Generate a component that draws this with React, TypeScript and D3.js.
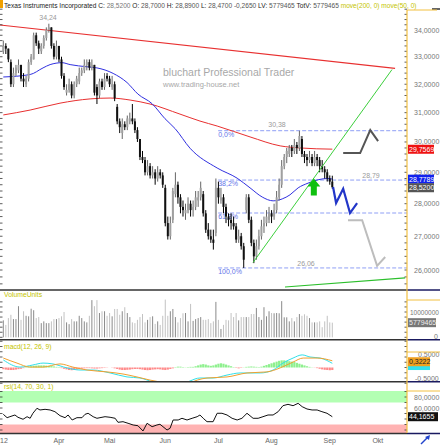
import * as d3 from "d3";

const FONT = "'Liberation Sans', Arial, sans-serif";

// daily candles from 1 Mar 2012: open, high, low, close
const ohlc: [number, number, number, number][] = [
  [33.2, 33.6, 33.1, 33.4], [33.4, 33.5, 33.1, 33.3], [33.3, 33.3, 32.8, 32.9], [32.8, 32.9, 31.9, 32.0],
  [32.0, 32.6, 31.9, 32.4], [32.4, 32.7, 32.3, 32.6], [32.5, 32.9, 32.4, 32.7], [32.7, 32.7, 32.1, 32.2],
  [32.2, 32.4, 31.9, 32.1], [32.0, 32.3, 31.9, 32.2], [32.2, 32.9, 32.1, 32.8], [32.8, 33.1, 32.7, 33.0],
  [32.9, 33.9, 32.9, 33.8], [33.8, 33.9, 33.4, 33.5], [33.5, 33.6, 33.1, 33.3], [33.2, 33.5, 33.1, 33.4],
  [33.4, 33.8, 33.3, 33.7], [33.7, 34.1, 33.6, 34.0], [34.0, 34.24, 33.9, 34.1], [34.1, 34.1, 33.3, 33.4],
  [33.4, 33.5, 32.9, 33.0], [33.0, 33.6, 32.9, 33.4], [33.4, 33.4, 32.8, 32.9], [32.9, 33.0, 32.2, 32.3],
  [32.3, 32.4, 31.8, 31.9], [31.7, 32.0, 31.6, 31.8], [31.8, 32.2, 31.7, 32.0], [32.0, 32.1, 31.5, 31.6],
  [31.6, 32.1, 31.5, 32.0], [32.0, 32.3, 31.9, 32.2], [32.1, 32.6, 32.0, 32.4], [32.4, 32.6, 32.3, 32.5],
  [32.5, 32.9, 32.4, 32.7], [32.7, 32.9, 32.5, 32.8], [32.8, 32.9, 32.5, 32.6], [32.6, 32.9, 32.5, 32.7],
  [32.7, 32.7, 31.6, 31.7], [31.9, 32.0, 31.3, 31.6], [31.6, 32.2, 31.5, 32.1], [32.1, 32.2, 31.8, 31.9],
  [31.9, 32.4, 31.8, 32.2], [32.3, 32.4, 32.1, 32.2], [32.2, 32.3, 31.9, 32.0], [31.9, 32.3, 31.8, 32.0],
  [32.0, 32.1, 31.4, 31.5], [31.2, 31.3, 30.6, 30.7], [30.7, 30.8, 30.3, 30.5], [30.3, 30.8, 30.1, 30.6],
  [30.6, 30.7, 30.4, 30.5], [30.5, 30.9, 30.4, 30.8], [30.7, 31.0, 30.6, 30.8], [30.8, 31.3, 30.6, 30.7],
  [30.7, 30.8, 30.3, 30.4], [30.4, 30.5, 30.0, 30.1], [30.1, 30.1, 29.4, 29.5], [29.5, 29.7, 29.3, 29.4],
  [29.4, 29.5, 28.9, 29.0], [29.0, 29.4, 28.9, 29.2], [29.2, 29.3, 28.8, 28.9], [28.9, 29.2, 28.8, 29.0],
  [29.0, 29.1, 28.6, 28.8], [28.8, 29.2, 28.7, 29.0], [29.0, 29.1, 28.8, 28.9], [28.9, 29.0, 28.5, 28.6],
  [28.5, 28.6, 27.3, 27.4], [27.4, 27.6, 26.9, 27.0], [27.0, 27.6, 26.9, 27.4], [27.5, 28.5, 27.4, 28.4],
  [28.3, 29.0, 28.2, 28.6], [28.6, 28.7, 28.0, 28.2], [28.2, 28.3, 27.7, 27.9], [27.9, 28.1, 27.6, 27.8],
  [27.7, 28.0, 27.5, 27.8], [27.8, 28.2, 27.7, 28.0], [28.0, 28.1, 27.6, 27.8], [27.8, 28.1, 27.6, 27.9],
  [27.9, 28.4, 27.8, 28.2], [28.1, 28.4, 27.9, 28.2], [28.2, 28.7, 28.1, 28.5], [28.3, 28.4, 27.6, 27.7],
  [27.7, 27.8, 27.1, 27.2], [27.2, 27.4, 26.9, 27.0], [27.0, 27.2, 26.8, 26.9], [26.9, 27.2, 26.6, 26.8],
  [27.1, 28.8, 27.0, 28.5], [28.5, 28.7, 28.0, 28.2], [28.1, 28.5, 28.0, 28.2], [28.2, 28.3, 27.7, 27.9],
  [27.9, 28.0, 27.4, 27.6], [27.6, 27.7, 27.3, 27.5], [27.5, 27.7, 27.2, 27.4], [27.4, 27.6, 27.2, 27.3],
  [27.3, 27.4, 26.8, 26.9], [26.9, 27.2, 26.8, 27.0], [27.0, 27.1, 26.6, 26.7], [26.7, 26.8, 26.06, 26.3],
  [27.8, 28.3, 27.7, 28.2], [28.2, 28.3, 27.4, 27.5], [27.5, 27.6, 26.7, 26.8], [26.8, 26.9, 26.2, 26.4],
  [26.4, 26.9, 26.3, 26.7], [26.7, 27.2, 26.6, 27.0], [27.0, 27.5, 26.9, 27.3], [27.3, 27.6, 27.1, 27.4],
  [27.4, 27.8, 27.3, 27.6], [27.5, 27.9, 27.4, 27.7], [27.7, 27.8, 27.4, 27.6], [27.6, 28.0, 27.5, 27.8],
  [27.8, 28.4, 27.7, 28.2], [28.2, 28.8, 28.1, 28.6], [28.6, 29.4, 28.5, 29.2], [29.2, 29.6, 29.1, 29.5],
  [29.5, 29.8, 29.3, 29.7], [29.6, 29.9, 29.5, 29.8], [29.8, 29.9, 29.5, 29.7], [29.7, 30.1, 29.6, 29.9],
  [29.9, 30.0, 29.6, 29.8], [29.8, 30.38, 29.7, 30.2], [30.1, 30.2, 29.5, 29.6], [29.6, 29.7, 29.3, 29.5],
  [29.5, 29.6, 29.2, 29.4], [29.4, 29.7, 29.3, 29.5], [29.5, 29.6, 29.2, 29.3], [29.3, 29.7, 29.2, 29.5],
  [29.5, 29.6, 29.2, 29.4], [29.4, 29.5, 29.0, 29.2], [29.2, 29.4, 29.0, 29.1], [29.1, 29.2, 28.8, 29.0],
  [29.0, 29.1, 28.7, 28.8], [28.8, 28.9, 28.6, 28.7], [28.7, 28.89, 28.47, 28.52],
];

// volume in millions of shares
const volumeM = [
  6.7, 4.9, 7.6, 8.9, 7.2, 7.2, 12.3, 6.9, 10.3, 8.5,
  8.3, 11.3, 10.7, 7.6, 8.0, 5.6, 6.3, 5.6, 5.6, 6.3,
  7.2, 7.2, 7.6, 8.3, 10.0, 5.9, 5.2, 7.2, 6.3, 6.3,
  8.5, 7.6, 6.3, 5.9, 8.5, 14.7, 12.3, 14.7, 9.6, 10.3,
  10.3, 8.5, 9.6, 8.3, 11.2, 11.2, 8.9, 10.3, 11.9, 9.6,
  8.0, 5.9, 5.6, 6.9, 8.0, 9.2, 5.9, 6.9, 8.0, 8.3,
  5.3, 6.3, 4.9, 8.5, 14.9, 8.5, 10.3, 11.2, 8.0, 5.9,
  7.6, 9.5, 9.6, 6.3, 13.2, 6.5, 7.2, 7.6, 8.0, 6.9,
  6.9, 7.2, 5.6, 6.3, 14.0, 6.9, 3.3, 4.9, 6.9, 6.7,
  9.6, 8.0, 9.6, 6.7, 8.0, 8.0, 8.0, 8.0, 9.2, 9.2,
  11.6, 8.0, 6.9, 11.9, 8.3, 10.3, 9.6, 9.5, 9.6, 9.5,
  14.3, 7.9, 7.9, 6.3, 7.6, 6.3, 8.0, 9.2, 8.5, 9.1,
  8.5, 7.6, 5.9, 5.9, 5.9, 6.3, 4.0, 6.3, 8.5, 5.9,
  5.78,
];

// moving averages [day index, price]
const ma50: [number, number][] = [
  [0, 32.26], [10.6, 32.35], [15.7, 32.59], [18.5, 32.71], [23.2, 32.78], [26.4, 32.71],
  [33.1, 32.63], [37, 32.59], [43.4, 32.39], [48.9, 32.06], [53.2, 31.65], [58.8, 31.31],
  [63.9, 30.79], [67.9, 30.45], [73.8, 29.79], [84.5, 29.14], [92.4, 28.81], [97.5, 28.5],
  [102.3, 28.21], [106.6, 28.09], [110.2, 28.15], [113.3, 28.28], [116.5, 28.5],
  [120.4, 28.65], [124.4, 28.76], [128.3, 28.8], [130, 28.78],
];
const ma200: [number, number][] = [
  [0, 30.92], [10.6, 31.09], [22.4, 31.33], [34.3, 31.48], [42.2, 31.51], [50.1, 31.44],
  [58, 31.3], [69.8, 30.95], [77.7, 30.71], [84.5, 30.54], [97.5, 30.17], [109.4, 29.87],
  [117.3, 29.8], [130, 29.76],
];

const macdLine: [number, number][] = [
  [0, 0.36], [6.6, 0.02], [11.7, 0.12], [15.7, 0.21], [19.6, 0.17], [25.2, -0.02], [30.3, -0.12],
  [35.5, -0.12], [42.2, -0.26], [48.9, -0.45], [54, -0.5], [59.2, -0.69], [65.9, -0.83],
  [71, -0.79], [73.8, -0.64], [77.7, -0.5], [82.9, -0.5], [88.4, -0.36], [93.6, -0.26],
  [101.5, -0.26], [106.6, -0.12], [110.5, 0.21], [114.5, 0.45], [118.1, 0.6], [121.2, 0.5],
  [125.2, 0.45], [130, 0.2],
];
const signalLine: [number, number][] = [
  [0, 0.45], [5.4, 0.21], [10.6, 0.02], [15.7, 0.02], [22.4, 0.17], [27.5, 0.02], [33.1, -0.12],
  [41, -0.21], [47.3, -0.31], [52.8, -0.45], [58, -0.6], [61.9, -0.69], [67.9, -0.83],
  [72.6, -0.79], [76.6, -0.6], [80.5, -0.5], [88.4, -0.45], [96.3, -0.26], [104.2, -0.21],
  [109.4, -0.02], [114.5, 0.26], [118.5, 0.45], [124, 0.45], [130, 0.32],
];
const macdHist = [
  -0.08, -0.1, -0.12, -0.12, -0.12, -0.1, -0.08, -0.06, -0.03,
  0.02, 0.04, 0.06, 0.08, 0.09, 0.1, 0.1, 0.1, 0.09, 0.08, 0.07, 0.05, 0.03, 0.02,
  -0.03, -0.06, -0.09, -0.12, -0.13, -0.12, -0.1, -0.08, -0.06, -0.04,
  -0.03, -0.03, -0.04, -0.05, -0.05, -0.04, -0.03, -0.02,
  -0.01, 0, -0.01,
  -0.04, -0.07, -0.1, -0.12, -0.12, -0.11, -0.1, -0.08, -0.07, -0.07, -0.08, -0.1,
  -0.12, -0.13, -0.12, -0.1, -0.09, -0.08, -0.09, -0.11, -0.12, -0.1, -0.07, -0.04,
  0.02, 0.04, 0.04, 0.02,
  0.01, 0.02, 0.03, 0.03,
  0.06, 0.1, 0.14, 0.16, 0.14, 0.1, 0.08, 0.1, 0.14, 0.18, 0.2, 0.18, 0.14, 0.1, 0.06,
  0.02, -0.02, -0.04,
  -0.02, 0.01, 0.03,
  0.04, 0.05, 0.04, 0.03, 0.02,
  0.04, 0.08, 0.12, 0.16, 0.2, 0.24, 0.28, 0.32, 0.34, 0.34, 0.32, 0.3, 0.28, 0.26, 0.22,
  0.18, 0.14, 0.1, 0.06, 0.03,
  0.01, -0.01, -0.03,
  -0.06, -0.09, -0.11, -0.12, -0.13, -0.12,
];

const rsiLine: [number, number][] = [
  [0, 48.5], [1.5, 42.4], [2.6, 44.2], [4.6, 47.3], [5.8, 43.1], [7.8, 39.5], [9.4, 44.2],
  [10.6, 41.3], [11.7, 50.4], [13.3, 59.5], [14.5, 56.4], [16.5, 57.6], [18.5, 56.4],
  [20.4, 53.3], [22.4, 46], [24.4, 42.4], [25.6, 47.3], [27.2, 38.2], [29.1, 42.4],
  [31.1, 42.4], [32.3, 48.5], [33.5, 50.4], [35.5, 44.2], [37, 41.3], [38.2, 42.4],
  [40.2, 44.2], [42.2, 43.1], [44.2, 41.3], [45.3, 34], [47.3, 35.1], [49.3, 32.2],
  [51.3, 29.1], [53.2, 27.8], [55.2, 18.2], [56.8, 32.2], [58.8, 26], [60.7, 29.1],
  [61.9, 30.4], [63.1, 26], [64.7, 20], [65.9, 23.1], [67.1, 38.2], [69.1, 38.2],
  [70.6, 41.3], [72.6, 38.2], [74.6, 41.3], [76.6, 44.2], [77.7, 47.3], [79, 41.3],
  [80.5, 35.1], [82.9, 35.1], [84.5, 50.4], [86.4, 50.4], [88.4, 47.3], [90.4, 41.3],
  [92.4, 38.2], [94.3, 41.3], [96.3, 50.4], [98.7, 41.3], [100.7, 41.3], [102.6, 44.2],
  [104.6, 47.3], [106.6, 47.3], [108.6, 53.3], [110.5, 64.2], [112.5, 66.7], [114.5, 64.2],
  [116.5, 68.5], [118.1, 62.4], [120, 58.2], [122, 56.4], [124, 56.4], [125.9, 53.3],
  [127.9, 50.4], [130, 44.17],
];

const monthTicks: [string, number][] = [
  ["'12", 0], ["Apr", 22], ["Mai", 42], ["Jun", 64], ["Jul", 85], ["Aug", 106], ["Sep", 129], ["Okt", 148],
];
const priceTicks = [26, 27, 28, 29, 30, 31, 32, 33, 34];
const fibLevels: { pct: string; v: number }[] = [
  { pct: "0,0%", v: 30.38 },
  { pct: "38,2%", v: 28.75 },
  { pct: "61,8%", v: 27.71 },
  { pct: "100,0%", v: 26.06 },
];

// drawn lines and forecast strokes, [day index, price]
const trendDown: [number, number][] = [[-1.3, 34.19], [154.8, 32.57]];
const trendUp: [number, number][] = [[98.7, 26.22], [153.6, 32.53]];
const trendLow: [number, number][] = [[111.3, 25.51], [158.8, 25.77]];
const pathDark: [number, number][] = [[134.3, 29.63], [141, 29.63], [145, 30.4], [148.1, 30.03]];
const pathBlue: [number, number][] = [[130.3, 28.53], [131.5, 28.02], [134.3, 28.47], [137, 27.71], [139.8, 28.02]];
const pathLight: [number, number][] = [[136.2, 27.49], [141.8, 27.49], [147.7, 26.12], [150.9, 26.38]];
const arrowTip: [number, number] = [122.7, 28.8];

const fmt = (v: number, d = 4) => v.toFixed(d).replace(".", ",");

export default function App() {
  const PR = 407; // plot right edge
  const x = d3.scaleLinear().domain([0, 130]).range([3.3, 332.3]);
  const yP = d3.scaleLog().domain([26, 34]).range([270, 30]);
  const yV = d3.scaleLinear().domain([0, 10]).range([337.3, 312]);
  const yM = d3.scaleLinear().domain([-0.5, 0.5]).range([378, 357]);
  const yR = d3.scaleLinear().domain([60, 80]).range([408, 397]);

  const maLine = d3.line<[number, number]>().x((d) => x(d[0])).y((d) => yP(d[1])).curve(d3.curveMonotoneX);
  const straight = d3.line<[number, number]>().x((d) => x(d[0])).y((d) => yP(d[1]));
  const macdPath = d3.line<[number, number]>().x((d) => x(d[0])).y((d) => yM(d[1])).curve(d3.curveMonotoneX);
  const rsiPath = d3.line<[number, number]>().x((d) => x(d[0])).y((d) => yR(d[1]));

  const minorPrice = d3.range(25.6, 34.81, 0.2);
  const volTicks = d3.range(0, 16, 2);
  const macdTicks = d3.range(-0.75, 1.3, 0.25);
  const rsiTicks = d3.range(20, 95, 10);

  const ax = x(arrowTip[0]);
  const ay = yP(arrowTip[1]);
  const olive = "#c4c400";

  const sepLines = [290, 339.8, 381.8, 433.5];

  return (
    <svg
      width={440}
      height={445}
      style={{ position: "absolute", left: 0, top: 0, background: "#fff" }}
      fontFamily={FONT}
    >
      <defs>
        <clipPath id="cMain"><rect x={0} y={10} width={PR} height={279} /></clipPath>
        <clipPath id="cVol"><rect x={0} y={291} width={PR} height={48} /></clipPath>
        <clipPath id="cMacd"><rect x={0} y={341} width={PR} height={40} /></clipPath>
        <clipPath id="cRsi"><rect x={0} y={391} width={PR} height={42} /></clipPath>
      </defs>

      {/* header */}
      <rect x={0} y={0} width={3} height={8} fill="#f0a000" />
      <text x={4} y={8} fontSize={6.6} fill="#222">
        <tspan>Texas Instruments Incorporated </tspan>
        <tspan>C: </tspan><tspan fill="#777">28,5200 </tspan>
        <tspan>O: </tspan><tspan fill="#555">28,7000 </tspan>
        <tspan>H: </tspan><tspan fill="#555">28,8900 </tspan>
        <tspan>L: </tspan><tspan fill="#555">28,4700 -0,2650 </tspan>
        <tspan>LV: </tspan><tspan fill="#555">5779465 </tspan>
        <tspan>TotV: </tspan><tspan fill="#555">5779465 </tspan>
        <tspan fill={olive}>move(200, 0) move(50, 0)</tspan>
      </text>
      <rect x={432} y={8} width={8} height={2} fill="#666" />

      {/* main panel */}
      <g clipPath="url(#cMain)">
        <text x={163} y={76} fontSize={10.5} fill="#a8a8a8">bluchart Professional Trader</text>
        <text x={163} y={87} fontSize={7.5} fill="#a8a8a8">www.trading-house.net</text>

        {fibLevels.map((f) => (
          <g key={f.pct}>
            <line x1={x(84.9)} x2={PR} y1={yP(f.v)} y2={yP(f.v)} stroke="#8f9ff5" strokeWidth={1} strokeDasharray="4,2" />
            <text x={x(84.9)} y={yP(f.v) + 6} fontSize={7} fill="#5f73e8">{f.pct}</text>
          </g>
        ))}
        <text x={277} y={127} fontSize={7} fill="#9a9a9a" textAnchor="middle">30,38</text>
        <text x={371} y={178} fontSize={7} fill="#9a9a9a" textAnchor="middle">28,79</text>
        <text x={306} y={266} fontSize={7} fill="#9a9a9a" textAnchor="middle">26,06</text>
        <text x={48} y={20} fontSize={7} fill="#9a9a9a" textAnchor="middle">34,24</text>

        <path d={straight(trendDown) ?? ""} fill="none" stroke="#e83030" strokeWidth={1.2} />
        <path d={maLine(ma200) ?? ""} fill="none" stroke="#e83030" strokeWidth={1} />
        <path d={maLine(ma50) ?? ""} fill="none" stroke="#3030e0" strokeWidth={1} />

        {ohlc.map(([o, h, l, c], i) => {
          const up = c >= o;
          const cx = x(i);
          const top = yP(Math.max(o, c));
          const bot = yP(Math.min(o, c));
          return (
            <g key={i}>
              <line x1={cx} x2={cx} y1={yP(h)} y2={yP(l)} stroke={up ? "#666" : "#000"} strokeWidth={1} />
              <rect x={cx - 1} y={top} width={2} height={Math.max(1, bot - top)} fill={up ? "#a0a0a0" : "#111"} />
            </g>
          );
        })}

        <path d={straight(trendUp) ?? ""} fill="none" stroke="#3ccf3c" strokeWidth={1} />
        <path d={straight(trendLow) ?? ""} fill="none" stroke="#2cbf2c" strokeWidth={1.2} />

        <path d={straight(pathDark) ?? ""} fill="none" stroke="#555" strokeWidth={2} />
        <path d={straight(pathLight) ?? ""} fill="none" stroke="#bdbdbd" strokeWidth={2} />
        <path d={straight(pathBlue) ?? ""} fill="none" stroke="#2236c8" strokeWidth={2.2} />

        <path
          d={`M${ax},${ay} L${ax + 6.5},${ay + 8} L${ax + 3},${ay + 8} L${ax + 3},${ay + 17} L${ax - 3},${ay + 17} L${ax - 3},${ay + 8} L${ax - 6.5},${ay + 8} Z`}
          fill="#10c010"
        />
      </g>

      {/* main axis ticks */}
      {minorPrice.map((p, k) => (
        <g key={k}>
          <line x1={0} x2={2.5} y1={yP(p)} y2={yP(p)} stroke="#333" strokeWidth={0.8} />
          <line x1={PR - 2.5} x2={PR} y1={yP(p)} y2={yP(p)} stroke="#333" strokeWidth={0.8} />
        </g>
      ))}
      {priceTicks.map((p) => (
        <text key={p} x={414} y={yP(p) + 2.5} fontSize={7} fill="#777">{fmt(p)}</text>
      ))}

      {/* volume panel */}
      <text x={4} y={297} fontSize={6.8} fill={olive}>VolumeUnits</text>
      <g clipPath="url(#cVol)">
        {volumeM.map((v, i) => {
          const [o, , , c] = ohlc[i];
          return (
            <rect key={i} x={x(i) - 0.5} y={yV(v)} width={1} height={yV(0) - yV(v)} fill={c >= o ? "#8a8a8a" : "#c2c2c2"} />
          );
        })}
      </g>
      {volTicks.map((t) => (
        <g key={t}>
          <line x1={0} x2={2.5} y1={yV(t)} y2={yV(t)} stroke="#333" strokeWidth={0.8} />
          <line x1={PR - 2.5} x2={PR} y1={yV(t)} y2={yV(t)} stroke="#333" strokeWidth={0.8} />
        </g>
      ))}
      <text x={410} y={yV(10) + 2.5} fontSize={6.5} fill="#777">10000000</text>
      <text x={438} y={yV(0) + 2} fontSize={7} fill="#777" textAnchor="end">0</text>

      {/* macd panel */}
      <text x={4} y={349} fontSize={6.8} fill={olive}>macd(12, 26, 9)</text>
      <g clipPath="url(#cMacd)">
        {macdHist.map((v, i) => (
          <rect
            key={i}
            x={x(i) - 1.1}
            y={Math.min(yM(0), yM(v))}
            width={2.2}
            height={Math.abs(yM(v) - yM(0))}
            fill={v >= 0 ? "#8ef08e" : "#ff8a8a"}
          />
        ))}
        <path d={macdPath(macdLine) ?? ""} fill="none" stroke="#2fe0e8" strokeWidth={1} />
        <path d={macdPath(signalLine) ?? ""} fill="none" stroke="#f0a030" strokeWidth={1} />
      </g>
      {macdTicks.map((t, k) => (
        <g key={k}>
          <line x1={0} x2={2.5} y1={yM(t)} y2={yM(t)} stroke="#333" strokeWidth={0.8} />
          <line x1={PR - 2.5} x2={PR} y1={yM(t)} y2={yM(t)} stroke="#333" strokeWidth={0.8} />
        </g>
      ))}
      <text x={418} y={yM(0.5) - 0.5} fontSize={7} fill="#777">0,5000</text>
      <text x={415} y={yM(-0.5) + 2.5} fontSize={7} fill="#777">-0,5000</text>
      <rect x={408} y={yM(0.07) - 4} width={22} height={8} fill="#33e0f0" />
      <rect x={408} y={yM(0.3222) - 3.5} width={22} height={9} fill="#f0a020" />
      <text x={409} y={yM(0.3222) + 3.5} fontSize={7} fill="#222">0,3222</text>

      {/* rsi panel */}
      <text x={4} y={389} fontSize={6.8} fill={olive}>rsi(14, 70, 30, 1)</text>
      <g clipPath="url(#cRsi)">
        <rect x={0} y={yR(100)} width={PR} height={yR(70) - yR(100)} fill="#b3ffb3" />
        <rect x={0} y={yR(30)} width={PR} height={yR(0) - yR(30)} fill="#ffb3b3" />
        <path d={rsiPath(rsiLine) ?? ""} fill="none" stroke="#111" strokeWidth={1} />
      </g>
      {rsiTicks.map((t) => (
        <g key={t}>
          <line x1={0} x2={2.5} y1={yR(t)} y2={yR(t)} stroke="#333" strokeWidth={0.8} />
          <line x1={PR - 2.5} x2={PR} y1={yR(t)} y2={yR(t)} stroke="#333" strokeWidth={0.8} />
        </g>
      ))}
      <text x={414} y={yR(80) + 2.5} fontSize={7} fill="#777">80,0000</text>
      <text x={414} y={yR(60) + 2.5} fontSize={7} fill="#777">60,0000</text>
      <rect x={408} y={yR(44.1655) - 4.5} width={30} height={9} fill="#111" />
      <text x={409} y={yR(44.1655) + 2.5} fontSize={7} fill="#fff">44,1655</text>

      {/* price value boxes */}
      <rect x={408} y={yP(29.7569) - 4.5} width={26} height={9} fill="#ee1111" />
      <text x={409} y={yP(29.7569) + 2.5} fontSize={7} fill="#fff">29,7569</text>
      <rect x={408} y={yP(28.7789) - 4.5} width={26} height={9} fill="#1122ee" />
      <text x={409} y={yP(28.7789) + 2.5} fontSize={7} fill="#fff">28,7789</text>
      <rect x={408} y={yP(28.52) - 4} width={26} height={9} fill="#555" />
      <text x={409} y={yP(28.52) + 3} fontSize={7} fill="#fff">28,5200</text>
      <rect x={408} y={yV(5.78) - 4.5} width={28} height={9} fill="#777" />
      <text x={409} y={yV(5.78) + 2.5} fontSize={7} fill="#eee">5779465</text>

      {/* separators and frame */}
      {sepLines.map((s) => (
        <g key={s}>
          <line x1={0} x2={PR} y1={s} y2={s} stroke="#333" strokeWidth={1.6} />
          <line x1={PR} x2={440} y1={s} y2={s} stroke="#1a1a60" strokeWidth={1.6} />
        </g>
      ))}
      <line x1={PR} x2={PR} y1={10} y2={433} stroke="#f2c040" strokeWidth={1.2} />
      {[10, 300, 352, 391].map((t) => (
        <line key={t} x1={PR} x2={t === 10 ? 437 : 440} y1={t} y2={t} stroke="#f2c040" strokeWidth={1} />
      ))}

      {/* x axis */}
      {monthTicks.map(([m, i]) => (
        <text key={m} x={x(i)} y={443} fontSize={7} fill="#666" textAnchor="middle">{m}</text>
      ))}
      <path d="M421,444 L428,437" stroke="#2244cc" strokeWidth={1.5} />
      <path d="M425,437 L430,435 L429,440 Z" fill="#2244cc" />
    </svg>
  );
}
